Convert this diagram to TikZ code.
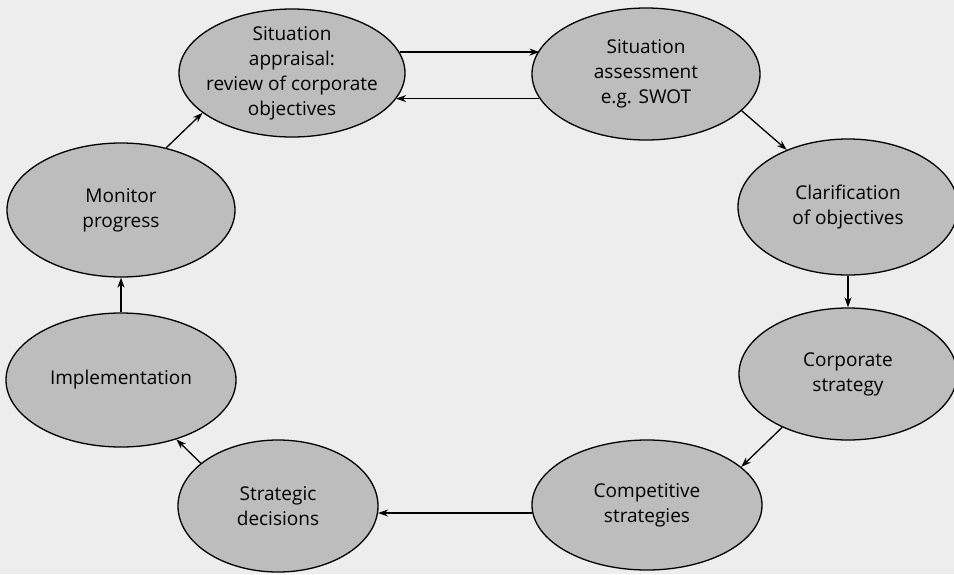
\documentclass[tikz,border=0pt]{standalone}
\usepackage{fontspec}
\setmainfont{Open Sans}
\usetikzlibrary{shapes.geometric,arrows.meta}
\definecolor{paper}{HTML}{EDEDED}
\definecolor{bubble}{HTML}{BDBDBD}
\begin{document}
\begin{tikzpicture}[x=1pt,y=-1pt,
  bubble/.style={ellipse,draw=black,line width=1.3pt,fill=bubble,inner sep=0pt},
  lbl/.style={align=center,inner sep=0pt,font=\fontsize{19}{25}\selectfont},
  flow/.style={line width=1.3pt,-{Stealth[length=10pt,width=7pt]}}]
  % paper background
  \fill[paper] (0,0) rectangle (954,574);
  \useasboundingbox (0,0) rectangle (954,574);

  % stages of the planning cycle
  \node[bubble,minimum width=226,minimum height=128] (appr) at (292,73) {};
  \node[bubble,minimum width=228,minimum height=132] (asse) at (646,74) {};
  \node[bubble,minimum width=220,minimum height=136] (clar) at (848,207) {};
  \node[bubble,minimum width=218,minimum height=132] (corp) at (848,374) {};
  \node[bubble,minimum width=230,minimum height=130] (comp) at (647,505) {};
  \node[bubble,minimum width=200,minimum height=132] (deci) at (278,506) {};
  \node[bubble,minimum width=230,minimum height=134] (impl) at (121,380) {};
  \node[bubble,minimum width=228,minimum height=134] (moni) at (121,210) {};

  % stage texts
  \node[lbl] (tappr) at (appr) {Situation\\appraisal:\\review of corporate\\objectives};
  \node[lbl] (tasse) at (asse) {Situation\\assessment\\e.g. SWOT};
  \node[lbl] (tclar) at (clar) {Clarification\\of objectives};
  \node[lbl] (tcorp) at (corp) {Corporate\\strategy};
  \node[lbl] (tcomp) at (comp) {Competitive\\strategies};
  \node[lbl] (tdeci) at (deci) {Strategic\\decisions};
  \node[lbl] (timpl) at (impl) {Implementation};
  \node[lbl] (tmoni) at (moni) {Monitor\\progress};

  % connectors
  \draw[flow] (appr.11.7) -- (appr.11.7 -| asse.167.8);
  \draw[flow] (asse.193.3) -- (asse.193.3 -| appr.-14.1);
  \draw[flow] (asse.-21.1) -- (clar.137.8);
  \draw[flow] (clar.south) -- (corp.north);
  \draw[flow] (corp.219.3) -- (comp.22.2);
  \draw[flow] (comp.184.5) -- (comp.184.5 -| deci.-4.6);
  \draw[flow] (deci.151.9) -- (impl.-47.4);
  \draw[flow] (impl.north) -- (moni.south);
  \draw[flow] (moni.54.6) -- (appr.204.4);
\end{tikzpicture}
\end{document}
